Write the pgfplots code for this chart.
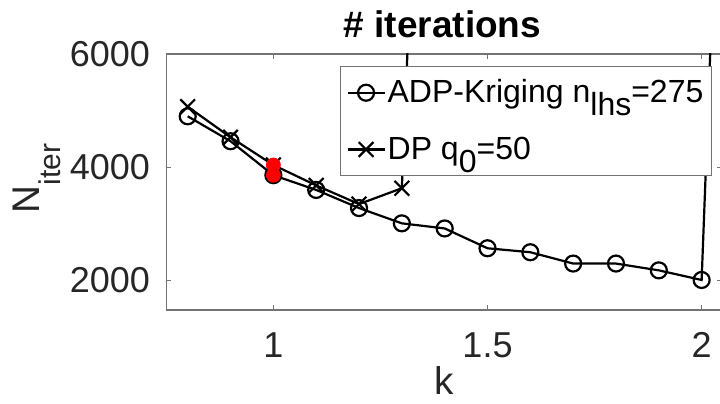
\documentclass[border=0pt]{standalone}
\usepackage{pgfplots}
\pgfplotsset{compat=1.18}
\usepackage{fontspec}
\setmainfont{Liberation Sans}
\usepackage{graphicx}
\begin{document}
\begin{tikzpicture}
\useasboundingbox (-83.15pt,-46.5pt) rectangle (276.85pt,155pt);
\begin{axis}[
  at={(0,0)}, anchor=south west,
  scale only axis, width=277.85pt, height=128pt,
  xmin=0.75, xmax=2.0475, ymin=1480, ymax=6000,
  xtick={1,1.5,2}, xticklabels={1,1.5,2},
  ytick={2000,4000,6000}, yticklabels={2000,4000,6000},
  tick align=inside, major tick length=2.5pt,
  axis line style={black!55, line width=0.6pt},
  tick style={black!55, line width=0.6pt},
  ticklabel style={font=\fontsize{18}{21}\selectfont, text=black!85},
  xticklabel style={anchor=base, inner sep=0pt, yshift=-23.5pt},
  yticklabel style={anchor=east, inner sep=0pt, xshift=-8pt},
  xlabel={k},
  xlabel style={at={(axis description cs:0.5,-0.332)}, anchor=base, inner sep=0pt, font=\fontsize{19.3}{23}\selectfont, text=black!85},
  ylabel={N\raisebox{-10.5pt}{\fontsize{15}{18}\selectfont iter}},
  ylabel style={at={(axis description cs:-0.2285,0.514)}, anchor=base, inner sep=0pt, font=\fontsize{19.3}{23}\selectfont, text=black!85},
  title={\# iterations},
  title style={at={(axis description cs:0.497,1.018)}, anchor=base, inner sep=0pt, font=\bfseries\fontsize{18.5}{22}\selectfont},
  legend style={at={(axis description cs:0.982,0.953)}, anchor=north east, draw=black!55, line width=0.6pt, fill=white, font=\fontsize{16}{19}\selectfont, text=black, row sep=11.5pt, inner xsep=3pt, inner ysep=4.5pt, nodes={inner xsep=1pt}},
  legend cell align=left,
  legend image code/.code={\draw[mark repeat=2,mark phase=2] plot coordinates {(0pt,0pt)(9.25pt,0pt)(18.5pt,0pt)};},
]
\addplot[black, line width=1.1pt, mark=o, mark size=4pt, mark options={solid, line width=1.1pt}]
  coordinates {(0.8,4900)(0.9,4460)(1.0,3860)(1.1,3600)(1.2,3280)(1.3,3010)(1.4,2920)(1.5,2570)(1.6,2500)(1.7,2300)(1.8,2300)(1.9,2180)(2.0,2010)(2.1,22000)};
\addlegendentry{ADP-Kriging n\raisebox{-6.5pt}{lhs}=275}
\addplot[black, line width=1.1pt, mark=x, mark size=5.2pt, mark options={solid, line width=1.1pt}]
  coordinates {(0.8,5070)(0.9,4530)(1.0,4040)(1.1,3680)(1.2,3350)(1.3,3630)(1.4,22000)};
\addlegendentry{DP q\raisebox{-6.5pt}{0}=50}
\addplot[only marks, mark=*, mark size=3.5pt, red, forget plot] coordinates {(1.0,3860)(1.0,4040)};
\end{axis}
\end{tikzpicture}
\end{document}
